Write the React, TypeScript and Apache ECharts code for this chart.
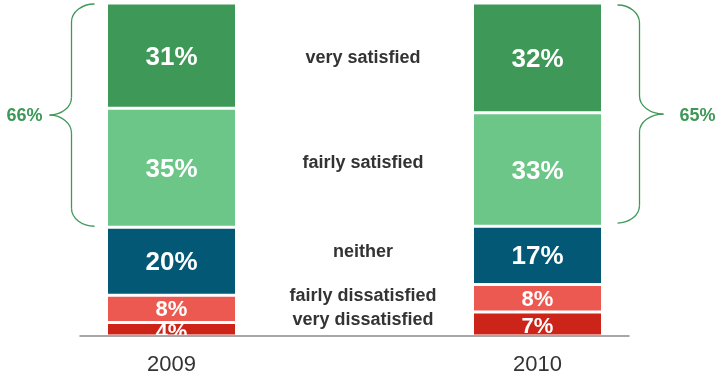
import React, { useEffect, useRef } from "react";
import * as echarts from "echarts";

const categories = ["2009", "", "2010"];
const veryDissatisfied = [4, null, 7];
const fairlyDissatisfied = [8, null, 8];
const neither = [20, null, 17];
const fairlySatisfied = [35, null, 33];
const verySatisfied = [31, null, 32];
const satisfiedTotals = [66, null, 65];
const segmentNames = ["very dissatisfied", "fairly dissatisfied", "neither", "fairly satisfied", "very satisfied"];
const middleLabels = ["very satisfied", "fairly satisfied", "neither", "fairly dissatisfied", "very dissatisfied"];

const COLORS = ["#cc2418", "#ec5950", "#035875", "#6cc688", "#3e9858"];
const GREEN = "#3e9858";
const FONT = "'Liberation Sans', Arial, Helvetica, sans-serif";

const rawSeries = [veryDissatisfied, fairlyDissatisfied, neither, fairlySatisfied, verySatisfied];

function totals(): number[] {
  return categories.map((_, i) => rawSeries.reduce((s, arr) => s + (arr[i] ?? 0), 0));
}

function braceElements(xEnd: number, xMid: number, xTip: number, yTop: number, yBot: number, r: number) {
  const ym = (yTop + yBot) / 2;
  const st = { stroke: GREEN, lineWidth: 1.3, fill: null as any };
  const k = 0.552;
  return [
    {
      type: "bezierCurve",
      shape: { x1: xEnd, y1: yTop, cpx1: xEnd + (xMid - xEnd) * k, cpy1: yTop, cpx2: xMid, cpy2: yTop + r * (1 - k), x2: xMid, y2: yTop + r },
      style: st,
    },
    { type: "line", shape: { x1: xMid, y1: yTop + r, x2: xMid, y2: ym - r }, style: st },
    {
      type: "bezierCurve",
      shape: { x1: xMid, y1: ym - r, cpx1: xMid, cpy1: ym - r + r * k, cpx2: xTip + (xMid - xTip) * k, cpy2: ym, x2: xTip, y2: ym },
      style: st,
    },
    {
      type: "bezierCurve",
      shape: { x1: xTip, y1: ym, cpx1: xTip + (xMid - xTip) * k, cpy1: ym, cpx2: xMid, cpy2: ym + r - r * k, x2: xMid, y2: ym + r },
      style: st,
    },
    { type: "line", shape: { x1: xMid, y1: ym + r, x2: xMid, y2: yBot - r }, style: st },
    {
      type: "bezierCurve",
      shape: { x1: xMid, y1: yBot - r, cpx1: xMid, cpy1: yBot - r * (1 - k), cpx2: xEnd + (xMid - xEnd) * k, cpy2: yBot, x2: xEnd, y2: yBot },
      style: st,
    },
  ];
}

export default function App() {
  const ref = useRef<HTMLDivElement>(null);
  useEffect(() => {
    if (!ref.current) return;
    const chart = echarts.init(ref.current, null, { renderer: "svg" });
    const tot = totals();
    const series = rawSeries.map((arr, si) => ({
      name: segmentNames[si],
      type: "bar",
      stack: "s",
      barWidth: 130,
      data: arr.map((v, i) => (v == null ? null : (v / tot[i]) * 100)),
      itemStyle: { color: COLORS[si], borderColor: "#ffffff", borderWidth: 1.5 },
      label: {
        show: true,
        position: "inside",
        color: "#ffffff",
        fontFamily: FONT,
        fontWeight: "bold",
        fontSize: si < 2 ? 22 : 26,
        lineHeight: si < 2 ? 17 : 28,
        offset: si === 0 ? [0, 2] : [0, 0],
        formatter: (p: any) => `${arr[p.dataIndex]}%`,
      },
    }));
    chart.setOption({
      animation: false,
      grid: { left: 80, right: 87, top: 3, bottom: 42 },
      xAxis: {
        type: "category",
        data: categories,
        z: 10,
        axisLine: { lineStyle: { color: "#8a8a8a", width: 1.5 } },
        axisTick: { show: false },
        axisLabel: { color: "#333333", fontSize: 22, fontFamily: FONT, margin: 16 },
      },
      yAxis: { type: "value", min: 0, max: 100, show: false, splitLine: { show: false } },
      series,
    });

    const px = (c: number, v: number) => chart.convertToPixel({ xAxisIndex: 0, yAxisIndex: 0 }, [c, v]) as number[];
    const half = 65;
    const graphics: any[] = [];
    [0, 2].forEach((ci) => {
      const satTop = 100;
      const satBottom = ((rawSeries[0][ci]! + rawSeries[1][ci]! + rawSeries[2][ci]!) / tot[ci]) * 100;
      const cx = px(ci, 0)[0];
      const yTop = px(ci, satTop)[1];
      const yBot = px(ci, satBottom)[1];
      if (ci === 0) {
        const left = cx - half;
        graphics.push(...braceElements(left - 12, left - 35, left - 57, yTop + 1, yBot - 1, 18));
        graphics.push({
          type: "text",
          x: left - 64,
          y: (yTop + yBot) / 2,
          style: { text: `${satisfiedTotals[ci]}%`, fill: GREEN, fontSize: 18, fontWeight: "bold", fontFamily: FONT, textAlign: "right", textVerticalAlign: "middle" },
        });
      } else {
        const right = cx + half;
        graphics.push(...braceElements(right + 15, right + 37, right + 61, yTop + 2, yBot - 3, 18));
        graphics.push({
          type: "text",
          x: right + 77,
          y: (yTop + yBot) / 2,
          style: { text: `${satisfiedTotals[ci]}%`, fill: GREEN, fontSize: 18, fontWeight: "bold", fontFamily: FONT, textAlign: "left", textVerticalAlign: "middle" },
        });
      }
    });
    const labelY = [57, 162, 251, 295, 319];
    middleLabels.forEach((t, i) => {
      graphics.push({
        type: "text",
        x: 363,
        y: labelY[i],
        style: { text: t, fill: "#333333", fontSize: 18, fontWeight: "bold", fontFamily: FONT, textAlign: "center", textVerticalAlign: "middle" },
      });
    });
    chart.setOption({ graphic: graphics });
    return () => chart.dispose();
  }, []);
  return <div ref={ref} style={{ position: "fixed", left: 0, top: 0, width: 716, height: 378 }} />;
}
